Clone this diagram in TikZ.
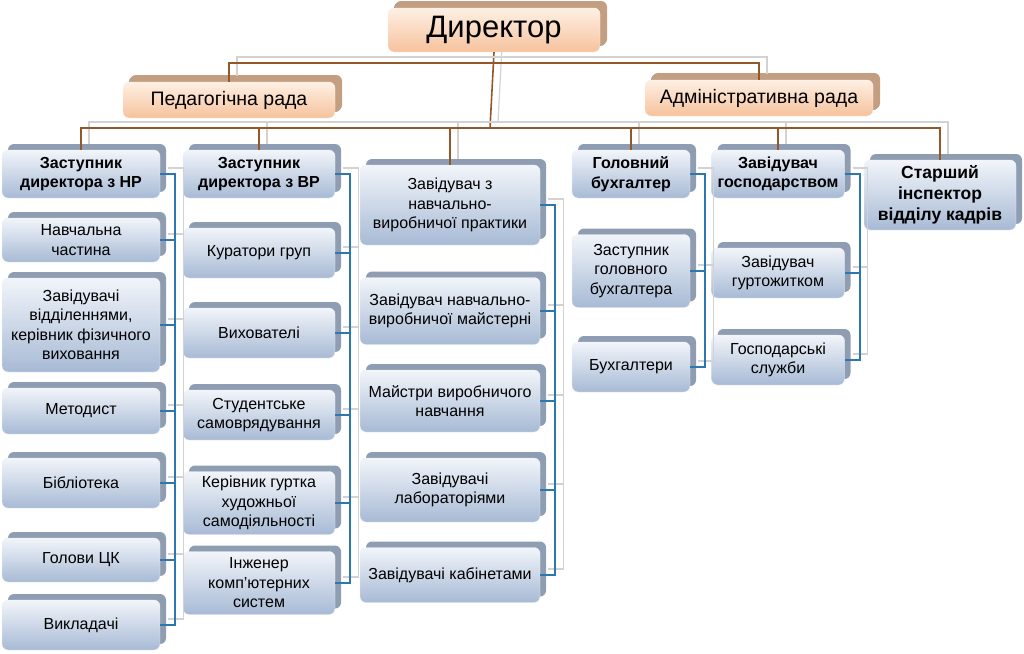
\documentclass[tikz,border=0pt]{standalone}
\usepackage{fontspec}
\setmainfont{Liberation Sans}
\usetikzlibrary{positioning}
\definecolor{boxtop}{HTML}{F2F5FA}
\definecolor{boxbot}{HTML}{A7BAD5}
\definecolor{boxshd}{HTML}{8E9DB2}
\definecolor{orgtop}{HTML}{FEF0E4}
\definecolor{orgbot}{HTML}{F6C29C}
\definecolor{orgshd}{HTML}{C39E80}
\definecolor{treecol}{HTML}{93582A}
\definecolor{buscol}{HTML}{2C78AE}
\tikzset{
    unit/.style={rounded corners=6pt, top color=boxtop, bottom color=boxbot, draw=white!80!boxbot,
        align=center, font=\fontsize{16}{19.5}\selectfont, inner sep=1pt,
        preaction={fill=boxshd, transform canvas={shift={(6pt,6pt)}}}},
    head/.style={unit, font=\fontsize{16}{19.5}\selectfont\bfseries},
    council/.style={unit, top color=orgtop, bottom color=orgbot, draw=white!80!orgbot,
        preaction={fill=orgshd, transform canvas={shift={(7pt,7pt)}}}},
    tree/.style={treecol, line width=1.6pt,
        preaction={draw=gray!35, line width=1.2pt, transform canvas={shift={(8pt,6pt)}}}},
    bus/.style={buscol, line width=1.6pt,
        preaction={draw=gray!35, line width=1.2pt, transform canvas={shift={(8pt,6pt)}}}}
}
\newcommand{\ubox}[6]{\node[#1, minimum width=#4pt, minimum height=#5pt] (#2) at (#3) {#6};}
\begin{document}
\begin{tikzpicture}[x=1pt, y=-1pt]
    \useasboundingbox (0,0) rectangle (1024,653);
    % top level
    \ubox{council, font=\fontsize{31}{34}\selectfont}{dir}{494,30}{212}{44}{Директор}
    \ubox{council, font=\fontsize{19.5}{22}\selectfont}{ped}{229,100}{212}{36}{Педагогічна рада}
    \ubox{council, font=\fontsize{19.5}{22}\selectfont}{adm}{759,98}{228}{36}{Адміністративна рада}

    % column 1
    \ubox{head}{nr}{81,174}{158}{48}{Заступник\\директора з НР}
    \ubox{unit}{nch}{81,240}{158}{44}{Навчальна\\частина}
    \ubox{unit}{zav}{81,325}{158}{94}{Завідувачі\\відділеннями,\\керівник фізичного\\виховання}
    \ubox{unit}{met}{81,411}{158}{46}{Методист}
    \ubox{unit}{bib}{81,483}{158}{50}{Бібліотека}
    \ubox{unit}{gck}{81,560}{158}{44}{Голови ЦК}
    \ubox{unit}{vyk}{81,625}{158}{50}{Викладачі}

    % column 2
    \ubox{head}{vr}{259,174}{152}{48}{Заступник\\директора з ВР}
    \ubox{unit}{kur}{259,253}{152}{50}{Куратори груп}
    \ubox{unit}{vyh}{259,333}{152}{50}{Вихователі}
    \ubox{unit}{stu}{259,415}{152}{50}{Студентське\\самоврядування}
    \ubox{unit}{gur}{259,503}{152}{63}{Керівник гуртка\\художньої\\самодіяльності}
    \ubox{unit}{inz}{259,583}{152}{63}{Інженер\\комп’ютерних\\систем}

    % column 3
    \ubox{unit}{prk}{450,205}{180}{80}{Завідувач з\\навчально-\\виробничої практики}
    \ubox{unit}{mst}{450,311}{180}{67}{Завідувач навчально-\\виробничої майстерні}
    \ubox{unit}{mvn}{450,401}{180}{62}{Майстри виробничого\\навчання}
    \ubox{unit}{lab}{450,490}{180}{64}{Завідувачі\\лабораторіями}
    \ubox{unit}{kab}{450,575}{180}{55}{Завідувачі кабінетами}

    % column 4
    \ubox{head}{gb}{631,174}{118}{48}{Головний\\бухгалтер}
    \ubox{unit}{zgb}{631,271}{118}{73}{Заступник\\головного\\бухгалтера}
    \ubox{unit}{buh}{631,367}{118}{50}{Бухгалтери}

    % column 5
    \ubox{head}{gsp}{778,174}{133}{48}{Завідувач\\господарством}
    \ubox{unit}{grt}{778,273}{133}{50}{Завідувач\\гуртожитком}
    \ubox{unit}{gsl}{778,360}{133}{50}{Господарські\\служби}

    % column 6
    \ubox{head, font=\fontsize{17.5}{21}\selectfont\bfseries}{kad}{940,195}{152}{70}{Старший\\інспектор\\відділу кадрів}

    % tree
    \coordinate (cbus) at (490,63);
    \coordinate (trunk) at (490,128);
    \draw[tree] (dir.south) -- (trunk);
    \draw[tree] (cbus) -| (ped.north);
    \draw[tree] (cbus) -| (adm.north);
    \foreach \n in {nr, vr, prk, gb, gsp, kad}
        \draw[tree] (trunk) -| (\n.north);

    % buses
    \foreach \h/\c in {nr/nch, nr/zav, nr/met, nr/bib, nr/gck, nr/vyk,
                       vr/kur, vr/vyh, vr/stu, vr/gur, vr/inz,
                       prk/mst, prk/mvn, prk/lab, prk/kab,
                       gb/zgb, gb/buh, gsp/grt, gsp/gsl}
        \draw[bus] (\h.east) -- ++(15,0) |- (\c.east);
\end{tikzpicture}
\end{document}
